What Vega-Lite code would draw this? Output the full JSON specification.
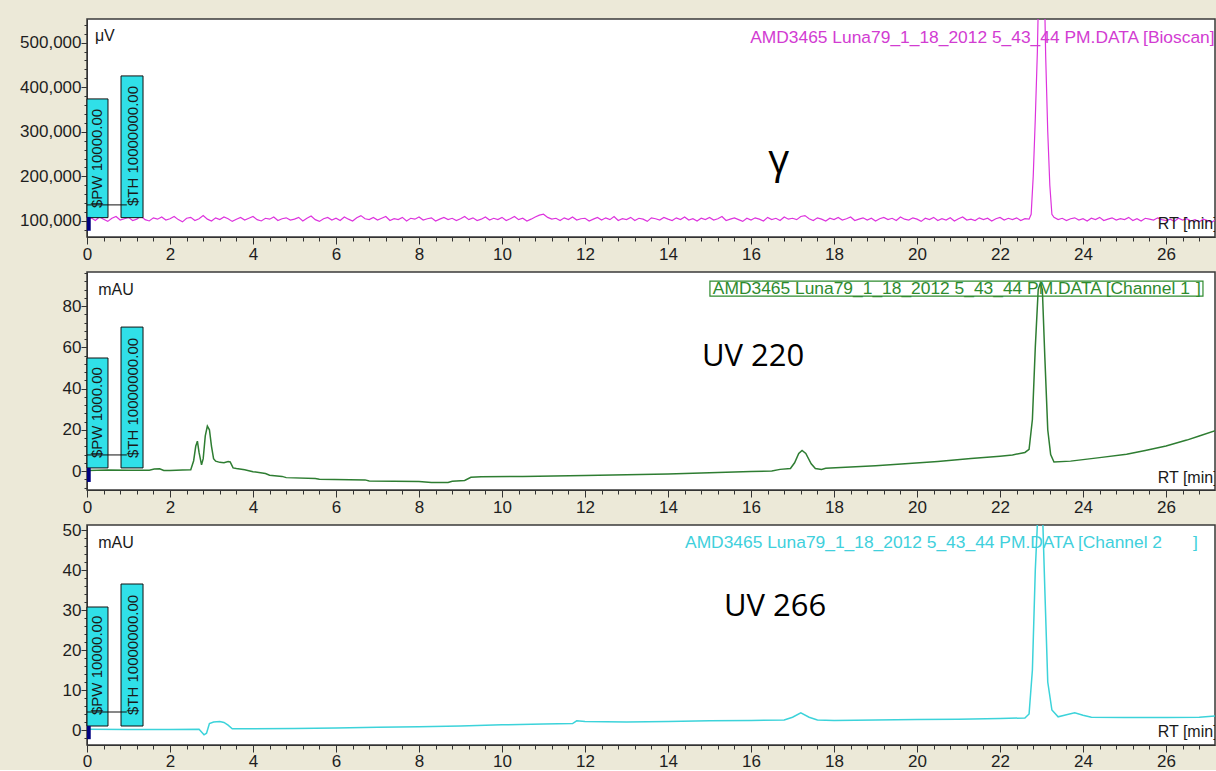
{
 "$schema": "https://vega.github.io/schema/vega-lite/v6.json",
 "background": "#ECE9D8",
 "padding": {"left": 18, "top": 18, "right": 0, "bottom": 0},
 "bounds": "flush",
 "spacing": 35,
 "config": {
  "view": {"stroke": "#3A3A3A", "strokeWidth": 1.5, "fill": "#FFFFFF"},
  "axis": {"labelFont": "Liberation Sans", "labelFontSize": 17, "labelColor": "#1E1E1E", "domainColor": "#333333", "tickColor": "#333333", "grid": false, "labelOverlap": false, "labelFlush": false, "domainWidth": 1, "tickWidth": 1, "title": null},
  "text": {"font": "Liberation Sans"}
 },
 "datasets": {
  "bio": [
   {"t":0.0,"v":103000},{"t":0.1,"v":107000},{"t":0.2,"v":101000},{"t":0.3,"v":109000},{"t":0.4,"v":104000},{"t":0.5,"v":99000},{"t":0.6,"v":106000},{"t":0.7,"v":110000},{"t":0.8,"v":102000},{"t":0.9,"v":105000},
   {"t":1.0,"v":108000},{"t":1.1,"v":101000},{"t":1.2,"v":104000},{"t":1.3,"v":111000},{"t":1.4,"v":103000},{"t":1.5,"v":100000},{"t":1.6,"v":107000},{"t":1.7,"v":104000},{"t":1.8,"v":109000},{"t":1.9,"v":102000},
   {"t":2.0,"v":105000},{"t":2.1,"v":110000},{"t":2.2,"v":103000},{"t":2.3,"v":98000},{"t":2.4,"v":106000},{"t":2.5,"v":108000},{"t":2.6,"v":101000},{"t":2.7,"v":105000},{"t":2.8,"v":112000},{"t":2.9,"v":104000},
   {"t":3.0,"v":100000},{"t":3.1,"v":107000},{"t":3.2,"v":103000},{"t":3.3,"v":109000},{"t":3.4,"v":105000},{"t":3.5,"v":99000},{"t":3.6,"v":104000},{"t":3.7,"v":108000},{"t":3.8,"v":102000},{"t":3.9,"v":106000},
   {"t":4.0,"v":110000},{"t":4.1,"v":103000},{"t":4.2,"v":100000},{"t":4.3,"v":106000},{"t":4.4,"v":104000},{"t":4.5,"v":109000},{"t":4.6,"v":101000},{"t":4.7,"v":105000},{"t":4.8,"v":107000},{"t":4.9,"v":102000},
   {"t":5.0,"v":104000},{"t":5.1,"v":108000},{"t":5.2,"v":100000},{"t":5.3,"v":106000},{"t":5.4,"v":111000},{"t":5.5,"v":103000},{"t":5.6,"v":99000},{"t":5.7,"v":105000},{"t":5.8,"v":108000},{"t":5.9,"v":102000},
   {"t":6.0,"v":106000},{"t":6.1,"v":101000},{"t":6.2,"v":109000},{"t":6.3,"v":104000},{"t":6.4,"v":100000},{"t":6.5,"v":107000},{"t":6.6,"v":112000},{"t":6.7,"v":105000},{"t":6.8,"v":103000},{"t":6.9,"v":108000},
   {"t":7.0,"v":102000},{"t":7.1,"v":106000},{"t":7.2,"v":110000},{"t":7.3,"v":101000},{"t":7.4,"v":105000},{"t":7.5,"v":103000},{"t":7.6,"v":108000},{"t":7.7,"v":100000},{"t":7.8,"v":106000},{"t":7.9,"v":104000},
   {"t":8.0,"v":109000},{"t":8.1,"v":102000},{"t":8.2,"v":105000},{"t":8.3,"v":107000},{"t":8.4,"v":100000},{"t":8.5,"v":104000},{"t":8.6,"v":108000},{"t":8.7,"v":103000},{"t":8.8,"v":106000},{"t":8.9,"v":101000},
   {"t":9.0,"v":105000},{"t":9.1,"v":110000},{"t":9.2,"v":103000},{"t":9.3,"v":107000},{"t":9.4,"v":101000},{"t":9.5,"v":104000},{"t":9.6,"v":109000},{"t":9.7,"v":102000},{"t":9.8,"v":106000},{"t":9.9,"v":103000},
   {"t":10.0,"v":108000},{"t":10.1,"v":101000},{"t":10.2,"v":105000},{"t":10.3,"v":110000},{"t":10.4,"v":103000},{"t":10.5,"v":106000},{"t":10.6,"v":100000},{"t":10.7,"v":104000},{"t":10.8,"v":109000},{"t":10.9,"v":113000},
   {"t":11.0,"v":115000},{"t":11.1,"v":108000},{"t":11.2,"v":104000},{"t":11.3,"v":106000},{"t":11.4,"v":101000},{"t":11.5,"v":107000},{"t":11.6,"v":103000},{"t":11.7,"v":109000},{"t":11.8,"v":102000},{"t":11.9,"v":105000},
   {"t":12.0,"v":106000},{"t":12.1,"v":100000},{"t":12.2,"v":104000},{"t":12.3,"v":108000},{"t":12.4,"v":102000},{"t":12.5,"v":107000},{"t":12.6,"v":103000},{"t":12.7,"v":110000},{"t":12.8,"v":101000},{"t":12.9,"v":105000},
   {"t":13.0,"v":103000},{"t":13.1,"v":108000},{"t":13.2,"v":101000},{"t":13.3,"v":106000},{"t":13.4,"v":104000},{"t":13.5,"v":99000},{"t":13.6,"v":107000},{"t":13.7,"v":105000},{"t":13.8,"v":102000},{"t":13.9,"v":108000},
   {"t":14.0,"v":104000},{"t":14.1,"v":101000},{"t":14.2,"v":107000},{"t":14.3,"v":103000},{"t":14.4,"v":109000},{"t":14.5,"v":102000},{"t":14.6,"v":105000},{"t":14.7,"v":100000},{"t":14.8,"v":106000},{"t":14.9,"v":103000},
   {"t":15.0,"v":108000},{"t":15.1,"v":102000},{"t":15.2,"v":105000},{"t":15.3,"v":110000},{"t":15.4,"v":101000},{"t":15.5,"v":104000},{"t":15.6,"v":107000},{"t":15.7,"v":103000},{"t":15.8,"v":99000},{"t":15.9,"v":106000},
   {"t":16.0,"v":102000},{"t":16.1,"v":107000},{"t":16.2,"v":104000},{"t":16.3,"v":100000},{"t":16.4,"v":108000},{"t":16.5,"v":103000},{"t":16.6,"v":106000},{"t":16.7,"v":101000},{"t":16.8,"v":109000},{"t":16.9,"v":104000},
   {"t":17.0,"v":106000},{"t":17.1,"v":103000},{"t":17.2,"v":110000},{"t":17.3,"v":112000},{"t":17.4,"v":105000},{"t":17.5,"v":101000},{"t":17.6,"v":107000},{"t":17.7,"v":104000},{"t":17.8,"v":100000},{"t":17.9,"v":106000},
   {"t":18.0,"v":103000},{"t":18.1,"v":108000},{"t":18.2,"v":102000},{"t":18.3,"v":105000},{"t":18.4,"v":109000},{"t":18.5,"v":101000},{"t":18.6,"v":104000},{"t":18.7,"v":107000},{"t":18.8,"v":102000},{"t":18.9,"v":106000},
   {"t":19.0,"v":100000},{"t":19.1,"v":105000},{"t":19.2,"v":108000},{"t":19.3,"v":103000},{"t":19.4,"v":106000},{"t":19.5,"v":101000},{"t":19.6,"v":109000},{"t":19.7,"v":104000},{"t":19.8,"v":102000},{"t":19.9,"v":107000},
   {"t":20.0,"v":104000},{"t":20.1,"v":99000},{"t":20.2,"v":106000},{"t":20.3,"v":103000},{"t":20.4,"v":108000},{"t":20.5,"v":101000},{"t":20.6,"v":105000},{"t":20.7,"v":102000},{"t":20.8,"v":107000},{"t":20.9,"v":100000},
   {"t":21.0,"v":105000},{"t":21.1,"v":109000},{"t":21.2,"v":102000},{"t":21.3,"v":104000},{"t":21.4,"v":101000},{"t":21.5,"v":107000},{"t":21.6,"v":103000},{"t":21.7,"v":106000},{"t":21.8,"v":100000},{"t":21.9,"v":105000},
   {"t":22.0,"v":108000},{"t":22.1,"v":102000},{"t":22.2,"v":106000},{"t":22.3,"v":103000},{"t":22.4,"v":107000},{"t":22.5,"v":101000},{"t":22.6,"v":105000},{"t":22.7,"v":104000},
   {"t":22.75,"v":115000},{"t":22.8,"v":200000},{"t":22.85,"v":330000},{"t":22.9,"v":480000},{"t":22.93,"v":620000},{"t":23.07,"v":620000},{"t":23.1,"v":470000},{"t":23.15,"v":300000},{"t":23.2,"v":180000},{"t":23.25,"v":115000},
   {"t":23.3,"v":108000},{"t":23.4,"v":103000},{"t":23.5,"v":106000},{"t":23.6,"v":101000},{"t":23.7,"v":105000},{"t":23.8,"v":107000},{"t":23.9,"v":102000},
   {"t":24.0,"v":105000},{"t":24.1,"v":100000},{"t":24.2,"v":106000},{"t":24.3,"v":103000},{"t":24.4,"v":108000},{"t":24.5,"v":101000},{"t":24.6,"v":104000},{"t":24.7,"v":107000},{"t":24.8,"v":102000},{"t":24.9,"v":105000},
   {"t":25.0,"v":103000},{"t":25.1,"v":108000},{"t":25.2,"v":101000},{"t":25.3,"v":105000},{"t":25.4,"v":100000},{"t":25.5,"v":106000},{"t":25.6,"v":104000},{"t":25.7,"v":102000},{"t":25.8,"v":107000},{"t":25.9,"v":103000},
   {"t":26.0,"v":101000},{"t":26.1,"v":104000},{"t":26.2,"v":99000},{"t":26.3,"v":106000},{"t":26.4,"v":102000},{"t":26.5,"v":105000},{"t":26.6,"v":100000},{"t":26.7,"v":103000},{"t":26.8,"v":98000},{"t":26.9,"v":104000},
   {"t":27.0,"v":101000},{"t":27.1,"v":97000},{"t":27.2,"v":103000}
  ],
  "ch1": [
   {"t":0,"v":0.3},{"t":0.5,"v":0.5},{"t":1.0,"v":0.4},{"t":1.5,"v":0.4},{"t":1.62,"v":1.0},{"t":1.75,"v":1.1},{"t":1.85,"v":0.3},{"t":2.0,"v":0.3},{"t":2.3,"v":0.5},{"t":2.5,"v":0.6},
   {"t":2.57,"v":5},{"t":2.62,"v":12},{"t":2.66,"v":14.5},{"t":2.7,"v":9},{"t":2.76,"v":3},{"t":2.8,"v":6},{"t":2.85,"v":17},{"t":2.9,"v":21.8},{"t":2.95,"v":20},{"t":3.0,"v":12},
   {"t":3.05,"v":6},{"t":3.1,"v":4.8},{"t":3.2,"v":4.2},{"t":3.3,"v":4.0},{"t":3.4,"v":4.6},{"t":3.45,"v":4.4},{"t":3.52,"v":1.5},{"t":3.6,"v":1.2},{"t":3.8,"v":0.6},{"t":4.0,"v":-0.3},
   {"t":4.3,"v":-1.2},{"t":4.4,"v":-2.0},{"t":4.7,"v":-2.6},{"t":4.8,"v":-3.2},{"t":5.5,"v":-3.6},{"t":5.6,"v":-4.0},{"t":6.7,"v":-4.3},{"t":6.8,"v":-4.8},{"t":8.0,"v":-5.1},{"t":8.3,"v":-5.6},
   {"t":8.7,"v":-5.6},{"t":8.8,"v":-5.0},{"t":9.1,"v":-4.6},{"t":9.25,"v":-3.0},{"t":9.5,"v":-2.8},{"t":10.5,"v":-2.6},{"t":12,"v":-2.2},{"t":14,"v":-1.5},{"t":15,"v":-0.8},{"t":16,"v":-0.2},
   {"t":16.5,"v":0.0},{"t":16.7,"v":0.8},{"t":16.95,"v":1.2},{"t":17.05,"v":4},{"t":17.15,"v":8.5},{"t":17.23,"v":10},{"t":17.32,"v":8.5},{"t":17.45,"v":3.5},{"t":17.55,"v":1.2},{"t":17.7,"v":0.8},
   {"t":17.8,"v":1.3},{"t":19,"v":2.6},{"t":19.8,"v":3.6},{"t":20.5,"v":4.6},{"t":21.3,"v":6.1},{"t":22.0,"v":7.2},{"t":22.3,"v":7.8},{"t":22.6,"v":9.0},{"t":22.7,"v":10.5},{"t":22.78,"v":25},
   {"t":22.85,"v":60},{"t":22.92,"v":88},{"t":22.97,"v":91},{"t":23.02,"v":88},{"t":23.08,"v":55},{"t":23.15,"v":20},{"t":23.22,"v":8},{"t":23.3,"v":4.4},{"t":23.7,"v":4.8},{"t":24.4,"v":6.5},
   {"t":25.05,"v":8.1},{"t":25.5,"v":10},{"t":26.0,"v":12.1},{"t":26.5,"v":15},{"t":26.8,"v":17},{"t":27.2,"v":19.7}
  ],
  "ch2": [
   {"t":0,"v":0.2},{"t":1,"v":0.1},{"t":2,"v":0.1},{"t":2.7,"v":0.2},{"t":2.82,"v":-1.2},{"t":2.88,"v":-0.8},{"t":2.95,"v":1.6},{"t":3.05,"v":2.0},{"t":3.2,"v":2.1},{"t":3.3,"v":1.9},
   {"t":3.4,"v":1.2},{"t":3.5,"v":0.3},{"t":4,"v":0.3},{"t":5,"v":0.4},{"t":6,"v":0.5},{"t":7,"v":0.7},{"t":8,"v":0.8},{"t":9,"v":1.0},{"t":10,"v":1.3},{"t":11,"v":1.5},
   {"t":11.7,"v":1.6},{"t":11.8,"v":2.3},{"t":12.0,"v":2.1},{"t":13,"v":2.0},{"t":14,"v":2.1},{"t":15,"v":2.3},{"t":16,"v":2.4},{"t":16.8,"v":2.5},{"t":17.0,"v":3.2},{"t":17.2,"v":4.3},
   {"t":17.4,"v":3.2},{"t":17.6,"v":2.5},{"t":18,"v":2.4},{"t":19,"v":2.5},{"t":20,"v":2.6},{"t":21,"v":2.7},{"t":22,"v":2.9},{"t":22.6,"v":3.0},{"t":22.7,"v":4},{"t":22.78,"v":15},
   {"t":22.85,"v":40},{"t":22.92,"v":56},{"t":23.02,"v":56},{"t":23.08,"v":35},{"t":23.15,"v":12},{"t":23.25,"v":5},{"t":23.4,"v":3.3},{"t":23.6,"v":3.8},{"t":23.8,"v":4.3},{"t":24.0,"v":3.7},
   {"t":24.2,"v":3.2},{"t":25,"v":3.1},{"t":26,"v":3.1},{"t":26.8,"v":3.2},{"t":27.2,"v":3.5}
  ],
  "boxes1": [{"start":0,"end":0.506,"low":107400,"high":373700},{"start":0.82,"end":1.35,"low":107400,"high":425300}],
  "boxes2": [{"start":0,"end":0.506,"low":1.5,"high":54.8},{"start":0.82,"end":1.35,"low":1.5,"high":69.8}],
  "boxes3": [{"start":0,"end":0.506,"low":1.0,"high":30.75},{"start":0.82,"end":1.35,"low":1.0,"high":36.5}]
 },
 "vconcat": [
  {
   "width": 1128, "height": 218,
   "resolve": {"axis": {"x": "independent", "y": "independent"}},
   "layer": [
    {"data": {"name": "bio"}, "mark": {"type": "line", "color": "#DD33DD", "strokeWidth": 1.2, "clip": true},
     "encoding": {
      "x": {"field": "t", "type": "quantitative", "scale": {"domain": [0, 27.18], "nice": false, "zero": false},
            "axis": {"title": null, "orient": "bottom", "values": [0,2,4,6,8,10,12,14,16,18,20,22,24,26], "labelExpr": "format(datum.value, 'd')", "tickSize": 7, "labelPadding": 2}},
      "y": {"field": "v", "type": "quantitative", "scale": {"domain": [64000, 553000], "nice": false, "zero": false},
            "axis": {"title": null, "orient": "left", "values": [100000,200000,300000,400000,500000], "labelExpr": "format(datum.value, ',')", "tickSize": 6, "labelPadding": 0}}
     }},
    {"data": {"name": "boxes1"}, "mark": {"type": "rect", "fill": "#30E0E8", "stroke": "#111111", "strokeWidth": 1},
     "encoding": {
      "x": {"field": "start", "type": "quantitative", "axis": {"title": null, "orient": "bottom", "labels": false, "domain": false, "tickSize": 4, "values": [0.4,0.8,1.2,1.6,2.4,2.8,3.2,3.6,4.4,4.8,5.2,5.6,6.4,6.8,7.2,7.6,8.4,8.8,9.2,9.6,10.4,10.8,11.2,11.6,12.4,12.8,13.2,13.6,14.4,14.8,15.2,15.6,16.4,16.8,17.2,17.6,18.4,18.8,19.2,19.6,20.4,20.8,21.2,21.6,22.4,22.8,23.2,23.6,24.4,24.8,25.2,25.6,26.4,26.8]}},
      "x2": {"field": "end"},
      "y": {"field": "low", "type": "quantitative", "axis": {"title": null, "orient": "left", "labels": false, "domain": false, "tickSize": 3, "values": [80000,120000,140000,160000,180000,220000,240000,260000,280000,320000,340000,360000,380000,420000,440000,460000,480000,520000,540000]}},
      "y2": {"field": "high"}}},
    {"data": {"values": [{}]}, "mark": {"type": "rule", "color": "#111111", "strokeWidth": 1},
     "encoding": {"x": {"datum": 0, "axis": null}, "x2": {"datum": 0.96}, "y": {"datum": 136000, "axis": null}}},
    {"data": {"values": [{}]}, "mark": {"type": "text", "angle": 270, "align": "left", "baseline": "middle", "fontSize": 15, "color": "#1A1A1A"},
     "encoding": {"x": {"datum": 0.24, "axis": null}, "y": {"datum": 129000, "axis": null}, "text": {"value": "$PW 10000.00"}}},
    {"data": {"values": [{}]}, "mark": {"type": "text", "angle": 270, "align": "left", "baseline": "middle", "fontSize": 15, "color": "#1A1A1A"},
     "encoding": {"x": {"datum": 1.11, "axis": null}, "y": {"datum": 133400, "axis": null}, "text": {"value": "$TH 10000000.00"}}},
    {"data": {"values": [{}]}, "mark": {"type": "rect", "color": "#000080"},
     "encoding": {"x": {"datum": 0, "axis": null}, "x2": {"datum": 0.09}, "y": {"datum": 78000, "axis": null}, "y2": {"datum": 109000}}},
    {"data": {"values": [{}]}, "mark": {"type": "text", "align": "left", "baseline": "middle", "fontSize": 17.4, "color": "#D23CD2", "clip": true},
     "encoding": {"x": {"datum": 15.98, "axis": null}, "y": {"datum": 510500, "axis": null}, "text": {"value": "AMD3465 Luna79_1_18_2012 5_43_44 PM.DATA [Bioscan]"}}},
    {"data": {"values": [{}]}, "mark": {"type": "text", "align": "left", "baseline": "middle", "fontSize": 16, "color": "#1A1A1A"},
     "encoding": {"x": {"datum": 0.19, "axis": null}, "y": {"datum": 515000, "axis": null}, "text": {"value": "μV"}}},
    {"data": {"values": [{}]}, "mark": {"type": "text", "align": "left", "baseline": "middle", "fontSize": 16, "color": "#1A1A1A", "clip": true},
     "encoding": {"x": {"datum": 25.8, "axis": null}, "y": {"datum": 93000, "axis": null}, "text": {"value": "RT [min]"}}},
    {"data": {"values": [{}]}, "mark": {"type": "text", "align": "center", "baseline": "alphabetic", "fontSize": 41, "font": "Open Sans", "color": "#000000"},
     "encoding": {"x": {"datum": 16.67, "axis": null}, "y": {"datum": 207700, "axis": null}, "text": {"value": "γ"}}}
   ]
  },
  {
   "width": 1128, "height": 218,
   "resolve": {"axis": {"x": "independent", "y": "independent"}},
   "layer": [
    {"data": {"name": "ch1"}, "mark": {"type": "line", "color": "#2E7D32", "strokeWidth": 1.5, "clip": true},
     "encoding": {
      "x": {"field": "t", "type": "quantitative", "scale": {"domain": [0, 27.18], "nice": false, "zero": false},
            "axis": {"title": null, "orient": "bottom", "values": [0,2,4,6,8,10,12,14,16,18,20,22,24,26], "labelExpr": "format(datum.value, 'd')", "tickSize": 7, "labelPadding": 2}},
      "y": {"field": "v", "type": "quantitative", "scale": {"domain": [-9.2, 96.5], "nice": false, "zero": false},
            "axis": {"title": null, "orient": "left", "values": [0,20,40,60,80], "labelExpr": "format(datum.value, 'd')", "tickSize": 6, "labelPadding": 0}}
     }},
    {"data": {"name": "boxes2"}, "mark": {"type": "rect", "fill": "#30E0E8", "stroke": "#111111", "strokeWidth": 1},
     "encoding": {
      "x": {"field": "start", "type": "quantitative", "axis": {"title": null, "orient": "bottom", "labels": false, "domain": false, "tickSize": 4, "values": [0.4,0.8,1.2,1.6,2.4,2.8,3.2,3.6,4.4,4.8,5.2,5.6,6.4,6.8,7.2,7.6,8.4,8.8,9.2,9.6,10.4,10.8,11.2,11.6,12.4,12.8,13.2,13.6,14.4,14.8,15.2,15.6,16.4,16.8,17.2,17.6,18.4,18.8,19.2,19.6,20.4,20.8,21.2,21.6,22.4,22.8,23.2,23.6,24.4,24.8,25.2,25.6,26.4,26.8]}},
      "x2": {"field": "end"},
      "y": {"field": "low", "type": "quantitative", "axis": {"title": null, "orient": "left", "labels": false, "domain": false, "tickSize": 3, "values": [-8,-4,4,8,12,16,24,28,32,36,44,48,52,56,64,68,72,76,84,88,92,96]}},
      "y2": {"field": "high"}}},
    {"data": {"values": [{}]}, "mark": {"type": "rule", "color": "#111111", "strokeWidth": 1},
     "encoding": {"x": {"datum": 0, "axis": null}, "x2": {"datum": 0.96}, "y": {"datum": 7.8, "axis": null}}},
    {"data": {"values": [{}]}, "mark": {"type": "text", "angle": 270, "align": "left", "baseline": "middle", "fontSize": 15, "color": "#1A1A1A"},
     "encoding": {"x": {"datum": 0.24, "axis": null}, "y": {"datum": 6.3, "axis": null}, "text": {"value": "$PW 1000.00"}}},
    {"data": {"values": [{}]}, "mark": {"type": "text", "angle": 270, "align": "left", "baseline": "middle", "fontSize": 15, "color": "#1A1A1A"},
     "encoding": {"x": {"datum": 1.11, "axis": null}, "y": {"datum": 6.3, "axis": null}, "text": {"value": "$TH 10000000.00"}}},
    {"data": {"values": [{}]}, "mark": {"type": "rect", "color": "#000080"},
     "encoding": {"x": {"datum": 0, "axis": null}, "x2": {"datum": 0.09}, "y": {"datum": -5.3, "axis": null}, "y2": {"datum": 1.5}}},
    {"data": {"values": [{}]}, "mark": {"type": "rect", "fillOpacity": 0, "stroke": "#2E8B2E", "strokeWidth": 1.2},
     "encoding": {"x": {"datum": 15.01, "axis": null}, "x2": {"datum": 26.89}, "y": {"datum": 84.8, "axis": null}, "y2": {"datum": 92.1}}},
    {"data": {"values": [{}]}, "mark": {"type": "text", "align": "left", "baseline": "middle", "fontSize": 17.4, "color": "#2E8B2E", "clip": true},
     "encoding": {"x": {"datum": 15.08, "axis": null}, "y": {"datum": 88.2, "axis": null}, "text": {"value": "AMD3465 Luna79_1_18_2012 5_43_44 PM.DATA [Channel 1"}}},
    {"data": {"values": [{}]}, "mark": {"type": "text", "align": "left", "baseline": "middle", "fontSize": 17.4, "color": "#2E8B2E", "clip": true},
     "encoding": {"x": {"datum": 26.72, "axis": null}, "y": {"datum": 88.2, "axis": null}, "text": {"value": "]"}}},
    {"data": {"values": [{}]}, "mark": {"type": "text", "align": "left", "baseline": "middle", "fontSize": 16, "color": "#1A1A1A"},
     "encoding": {"x": {"datum": 0.27, "axis": null}, "y": {"datum": 87.8, "axis": null}, "text": {"value": "mAU"}}},
    {"data": {"values": [{}]}, "mark": {"type": "text", "align": "left", "baseline": "middle", "fontSize": 16, "color": "#1A1A1A", "clip": true},
     "encoding": {"x": {"datum": 25.8, "axis": null}, "y": {"datum": -3.4, "axis": null}, "text": {"value": "RT [min]"}}},
    {"data": {"values": [{}]}, "mark": {"type": "text", "align": "center", "baseline": "middle", "fontSize": 31, "font": "Open Sans", "color": "#000000"},
     "encoding": {"x": {"datum": 16.05, "axis": null}, "y": {"datum": 55.3, "axis": null}, "text": {"value": "UV 220"}}}
   ]
  },
  {
   "width": 1128, "height": 220,
   "resolve": {"axis": {"x": "independent", "y": "independent"}},
   "layer": [
    {"data": {"name": "ch2"}, "mark": {"type": "line", "color": "#3CD3DA", "strokeWidth": 1.5, "clip": true},
     "encoding": {
      "x": {"field": "t", "type": "quantitative", "scale": {"domain": [0, 27.18], "nice": false, "zero": false},
            "axis": {"title": null, "orient": "bottom", "values": [0,2,4,6,8,10,12,14,16,18,20,22,24,26], "labelExpr": "format(datum.value, 'd')", "tickSize": 7, "labelPadding": 1}},
      "y": {"field": "v", "type": "quantitative", "scale": {"domain": [-3.75, 51.25], "nice": false, "zero": false},
            "axis": {"title": null, "orient": "left", "values": [0,10,20,30,40,50], "labelExpr": "format(datum.value, 'd')", "tickSize": 6, "labelPadding": 0}}
     }},
    {"data": {"name": "boxes3"}, "mark": {"type": "rect", "fill": "#30E0E8", "stroke": "#111111", "strokeWidth": 1},
     "encoding": {
      "x": {"field": "start", "type": "quantitative", "axis": {"title": null, "orient": "bottom", "labels": false, "domain": false, "tickSize": 4, "values": [0.4,0.8,1.2,1.6,2.4,2.8,3.2,3.6,4.4,4.8,5.2,5.6,6.4,6.8,7.2,7.6,8.4,8.8,9.2,9.6,10.4,10.8,11.2,11.6,12.4,12.8,13.2,13.6,14.4,14.8,15.2,15.6,16.4,16.8,17.2,17.6,18.4,18.8,19.2,19.6,20.4,20.8,21.2,21.6,22.4,22.8,23.2,23.6,24.4,24.8,25.2,25.6,26.4,26.8]}},
      "x2": {"field": "end"},
      "y": {"field": "low", "type": "quantitative", "axis": {"title": null, "orient": "left", "labels": false, "domain": false, "tickSize": 3, "values": [-2,2,4,6,8,12,14,16,18,22,24,26,28,32,34,36,38,42,44,46,48]}},
      "y2": {"field": "high"}}},
    {"data": {"values": [{}]}, "mark": {"type": "rule", "color": "#111111", "strokeWidth": 1},
     "encoding": {"x": {"datum": 0, "axis": null}, "x2": {"datum": 0.96}, "y": {"datum": 4.5, "axis": null}}},
    {"data": {"values": [{}]}, "mark": {"type": "text", "angle": 270, "align": "left", "baseline": "middle", "fontSize": 15, "color": "#1A1A1A"},
     "encoding": {"x": {"datum": 0.24, "axis": null}, "y": {"datum": 3.75, "axis": null}, "text": {"value": "$PW 10000.00"}}},
    {"data": {"values": [{}]}, "mark": {"type": "text", "angle": 270, "align": "left", "baseline": "middle", "fontSize": 15, "color": "#1A1A1A"},
     "encoding": {"x": {"datum": 1.11, "axis": null}, "y": {"datum": 3.75, "axis": null}, "text": {"value": "$TH 10000000.00"}}},
    {"data": {"values": [{}]}, "mark": {"type": "rect", "color": "#000080"},
     "encoding": {"x": {"datum": 0, "axis": null}, "x2": {"datum": 0.09}, "y": {"datum": -2.3, "axis": null}, "y2": {"datum": 1.0}}},
    {"data": {"values": [{}]}, "mark": {"type": "text", "align": "left", "baseline": "middle", "fontSize": 17.4, "color": "#40D0DC", "clip": true},
     "encoding": {"x": {"datum": 14.41, "axis": null}, "y": {"datum": 46.75, "axis": null}, "text": {"value": "AMD3465 Luna79_1_18_2012 5_43_44 PM.DATA [Channel 2"}}},
    {"data": {"values": [{}]}, "mark": {"type": "text", "align": "left", "baseline": "middle", "fontSize": 17.4, "color": "#40D0DC", "clip": true},
     "encoding": {"x": {"datum": 26.65, "axis": null}, "y": {"datum": 46.75, "axis": null}, "text": {"value": "]"}}},
    {"data": {"values": [{}]}, "mark": {"type": "text", "align": "left", "baseline": "middle", "fontSize": 16, "color": "#1A1A1A"},
     "encoding": {"x": {"datum": 0.27, "axis": null}, "y": {"datum": 46.75, "axis": null}, "text": {"value": "mAU"}}},
    {"data": {"values": [{}]}, "mark": {"type": "text", "align": "left", "baseline": "middle", "fontSize": 16, "color": "#1A1A1A", "clip": true},
     "encoding": {"x": {"datum": 25.8, "axis": null}, "y": {"datum": -0.5, "axis": null}, "text": {"value": "RT [min]"}}},
    {"data": {"values": [{}]}, "mark": {"type": "text", "align": "center", "baseline": "middle", "fontSize": 31, "font": "Open Sans", "color": "#000000"},
     "encoding": {"x": {"datum": 16.58, "axis": null}, "y": {"datum": 30.75, "axis": null}, "text": {"value": "UV 266"}}}
   ]
  }
 ]
}
